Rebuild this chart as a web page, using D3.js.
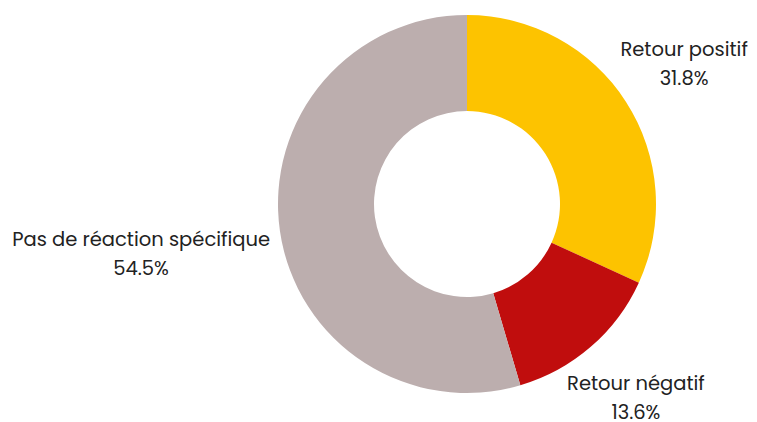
<!DOCTYPE html>
<html><head><meta charset="utf-8">
<script src="https://cdn.jsdelivr.net/npm/d3@7"></script>
<style>body{margin:0;background:#fff}svg{display:block}</style>
</head><body>
<script>
const categories = ["Retour positif", "Retour négatif", "Pas de réaction spécifique"];
const values = [31.8, 13.6, 54.5];
const labels = ["31.8%", "13.6%", "54.5%"];
const colors = ["#FDC300", "#C00D0D", "#BCAEAE"];

const W = 757, H = 422, cx = 467, cy = 204, R = 189, r0 = 93;
const svg = d3.select("body").append("svg").attr("width", W).attr("height", H);
const g = svg.append("g").attr("transform", `translate(${cx},${cy})`);
const data = categories.map((c, i) => ({c, v: values[i], l: labels[i], col: colors[i]}));
const pie = d3.pie().sort(null).value(d => d.v);
const arc = d3.arc().innerRadius(r0).outerRadius(R);
const lab = d3.arc().innerRadius(258).outerRadius(258);
const arcs = pie(data);
g.selectAll("path").data(arcs).join("path").attr("d", arc).attr("fill", d => d.data.col);

const font = "Poppins, 'Open Sans', sans-serif";
arcs.forEach(a => {
  const [x, y] = lab.centroid(a);
  const t = g.append("text").attr("font-family", font).attr("font-size", 19.5).attr("fill", "#222")
    .attr("text-anchor", "middle");
  const t1 = t.append("tspan").text(a.data.c);
  const t2 = t.append("tspan").text(a.data.l);
  const w = Math.max(t1.node().getComputedTextLength(), t2.node().getComputedTextLength());
  let px = x, py = y - 9;
  if (x < 0) { px = -R - 8 - w / 2; py = y + 5; }
  t1.attr("x", px).attr("y", py);
  t2.attr("x", px).attr("y", py + 29);
});
</script>
</body></html>
